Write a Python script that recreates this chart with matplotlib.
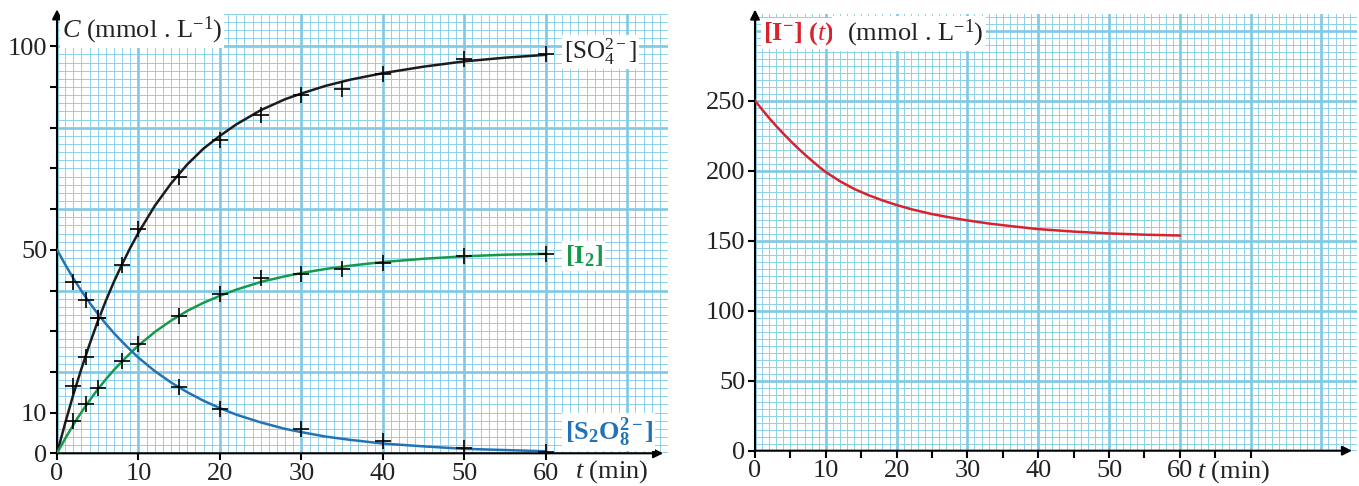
import numpy as np
import matplotlib
matplotlib.use("Agg")
import matplotlib.pyplot as plt

plt.rcParams['font.family'] = ['Liberation Serif', 'DejaVu Serif']
plt.rcParams['mathtext.fontset'] = 'custom'
plt.rcParams['mathtext.rm'] = 'Liberation Serif'
plt.rcParams['mathtext.it'] = 'Liberation Serif:italic'
plt.rcParams['mathtext.bf'] = 'Liberation Serif:bold'

# measured points (crosses)
t_pts = [2, 3.5, 5, 8, 10, 15, 20, 25, 30, 35, 40, 50, 60]
so4_pts = [16.5, 23.6, 33.3, 46.2, 55.0, 67.9, 77.0, 83.1, 88.0, 89.6, 93.2, 96.8, 98.1]
i2_pts = [7.9, 12.1, 16.0, 22.7, 26.9, 33.8, 39.1, 43.0, 44.1, 45.2, 46.8, 48.5, 49.0]
t_pts_s2o8 = [2, 3.5, 5, 15, 20, 30, 40, 50, 60]
s2o8_pts = [42.0, 37.7, 33.3, 16.2, 11.0, 5.9, 3.0, 1.2, 0.4]

# fitted curves
t_curve = [0, 1, 2, 3, 4, 5, 6, 7, 8, 9, 10, 12, 14, 16, 18, 20, 22, 25, 28, 30,
           33, 36, 40, 45, 50, 55, 60]
so4_curve = [0, 7.4, 14.4, 20.8, 26.8, 32.4, 37.5, 42.2, 46.5, 50.5, 54.2, 60.8, 66.3,
             71.0, 74.9, 78.0, 80.8, 84.3, 87.0, 88.4, 90.3, 91.8, 93.4, 95.0, 96.3,
             97.2, 97.9]
i2_curve = [0, 3.6, 7.0, 10.1, 13.0, 15.7, 18.2, 20.5, 22.6, 24.6, 26.5, 29.8, 32.6,
            35.0, 37.0, 38.7, 40.2, 42.1, 43.5, 44.3, 45.3, 46.1, 47.0, 47.8, 48.4,
            48.8, 49.0]
s2o8_curve = [50, 46.4, 43.0, 39.9, 37.0, 34.3, 31.8, 29.5, 27.4, 25.4, 23.5, 20.2,
              17.4, 15.0, 12.9, 11.1, 9.5, 7.6, 6.0, 5.2, 4.1, 3.3, 2.4, 1.7, 1.1, 0.8, 0.5]
iodide_curve = [250, 243.7, 237.6, 231.9, 226.5, 221.3, 216.4, 211.7, 207.3, 203.0,
                199.0, 192.5, 187.0, 182.6, 178.8, 175.5, 172.6, 169.0, 166.2, 164.5,
                162.3, 160.5, 158.3, 156.5, 155.2, 154.3, 153.7]

left_yticks = [0, 10, 20, 30, 40, 50, 60, 70, 80, 90, 100]
left_ylabels = ['0', '10', '', '', '', '50', '', '', '', '', '100']
left_xticks = [0, 10, 20, 30, 40, 50, 60]
right_yticks = [0, 50, 100, 150, 200, 250]
right_xticks = [0, 5, 10, 15, 20, 25, 30, 35, 40, 45, 50, 55, 60, 65, 70]
right_xlabels = ['0', '', '10', '', '20', '', '30', '', '40', '', '50', '', '60', '', '']

grid_minor = '#8fd2ea'
grid_major = '#80c9e2'
c_black = '#1c1c1c'
c_green = '#159a4c'
c_blue = '#2273b6'
c_red = '#d8232f'
txt = '#222222'
fs = 19


def paper(ax, xmax, ymax, dx, dy, DX, DY):
    for x in np.arange(0, xmax + 0.01, dx):
        ax.axvline(x, color=grid_minor, lw=0.72, antialiased=False, zorder=0)
    for y in np.arange(0, ymax + 0.01, dy):
        ax.axhline(y, color=grid_minor, lw=0.72, antialiased=False, zorder=0)
    for x in np.arange(0, xmax + 0.01, DX):
        ax.axvline(x, color=grid_major, lw=1.9, zorder=0)
    for y in np.arange(0, ymax + 0.01, DY):
        ax.axhline(y, color=grid_major, lw=1.9, zorder=0)
    ax.set_xlim(0, xmax)
    ax.set_ylim(0, ymax)
    for s in ax.spines.values():
        s.set_visible(False)
    # axes drawn as arrows
    ax.annotate('', xy=(0, 1.01), xycoords='axes fraction', xytext=(0, 0),
                arrowprops=dict(arrowstyle='-|>', color='black', lw=1.5,
                                mutation_scale=14, shrinkA=0, shrinkB=0),
                annotation_clip=False)
    ax.annotate('', xy=(0.992, 0), xycoords='axes fraction', xytext=(0, 0),
                arrowprops=dict(arrowstyle='-|>', color='black', lw=1.5,
                                mutation_scale=14, shrinkA=0, shrinkB=0),
                annotation_clip=False)
    ax.tick_params(direction='out', length=5, width=1.5, colors='black',
                   labelcolor=txt, labelsize=fs, pad=2)


fig = plt.figure(figsize=(13.59, 4.86), dpi=100)

# left panel
ax1 = fig.add_axes([57 / 1359, 32.7 / 486, 611 / 1359, 108 * 4.07 / 486])
paper(ax1, 75, 108, 1, 2, 10, 20)
ax1.set_xticks(left_xticks)
ax1.set_yticks(left_yticks)
ax1.set_yticklabels(left_ylabels)

ax1.plot(t_curve, so4_curve, color=c_black, lw=1.8, zorder=3)
ax1.plot(t_curve, i2_curve, color=c_green, lw=1.8, zorder=3)
ax1.plot(t_curve, s2o8_curve, color=c_blue, lw=1.8, zorder=3)
ax1.plot(t_pts, so4_pts, '+', color='black', ms=11, mew=1.2, zorder=4)
ax1.plot(t_pts, i2_pts, '+', color='black', ms=11, mew=1.2, zorder=4)
ax1.plot(t_pts_s2o8, s2o8_pts, '+', color='black', ms=11, mew=1.2, zorder=4)

box = dict(facecolor='white', edgecolor='none', pad=1.5)
ax1.text(0.6, 104, r'$C$ (mmol . L$^{-1}$)', fontsize=fs, color=txt,
         va='center', ha='left', bbox=box, zorder=5)
ax1.text(62.2, 98.6, r'[SO$_4^{2-}$]', fontsize=18, color=txt,
         va='center', ha='left', bbox=box, zorder=5)
ax1.text(62.3, 48.5, r'[I$_\mathbf{2}$]', fontsize=fs, color=c_green, fontweight='bold',
         va='center', ha='left', bbox=box, zorder=5)
ax1.text(62.3, 5.2, r'[S$_\mathbf{2}$O$_\mathbf{8}^\mathbf{2-}$]', fontsize=fs,
         color=c_blue, fontweight='bold', va='center', ha='left', bbox=box, zorder=5)
ax1.text(63.6, -4.6, r'$t$ (min)', fontsize=fs, color=txt, va='center', ha='left',
         clip_on=False)

# right panel
ax2 = fig.add_axes([755 / 1359, 35.3 / 486, 601.8 / 1359, 312 * 1.4 / 486])
paper(ax2, 85, 312, 1, 5, 10, 50)
ax2.set_xticks(right_xticks)
ax2.set_xticklabels(right_xlabels)
ax2.set_yticks(right_yticks)

ax2.plot(t_curve, iodide_curve, color=c_red, lw=1.8, zorder=3)

t1 = ax2.text(1.1, 298, r'[I$^\mathbf{-}$] ($t$)', fontsize=fs, color=c_red,
              fontweight='bold', va='center', ha='left', bbox=box, zorder=5)
ax2.annotate('  (mmol . L$^{-1}$)', xy=(1, 0.5), xycoords=t1, fontsize=fs, color=txt,
             va='center', ha='left', bbox=box, zorder=5)
ax2.text(62.4, -15.2, r'$t$ (min)', fontsize=fs, color=txt, va='center', ha='left',
         clip_on=False)

fig.savefig('out.png', dpi=100)
